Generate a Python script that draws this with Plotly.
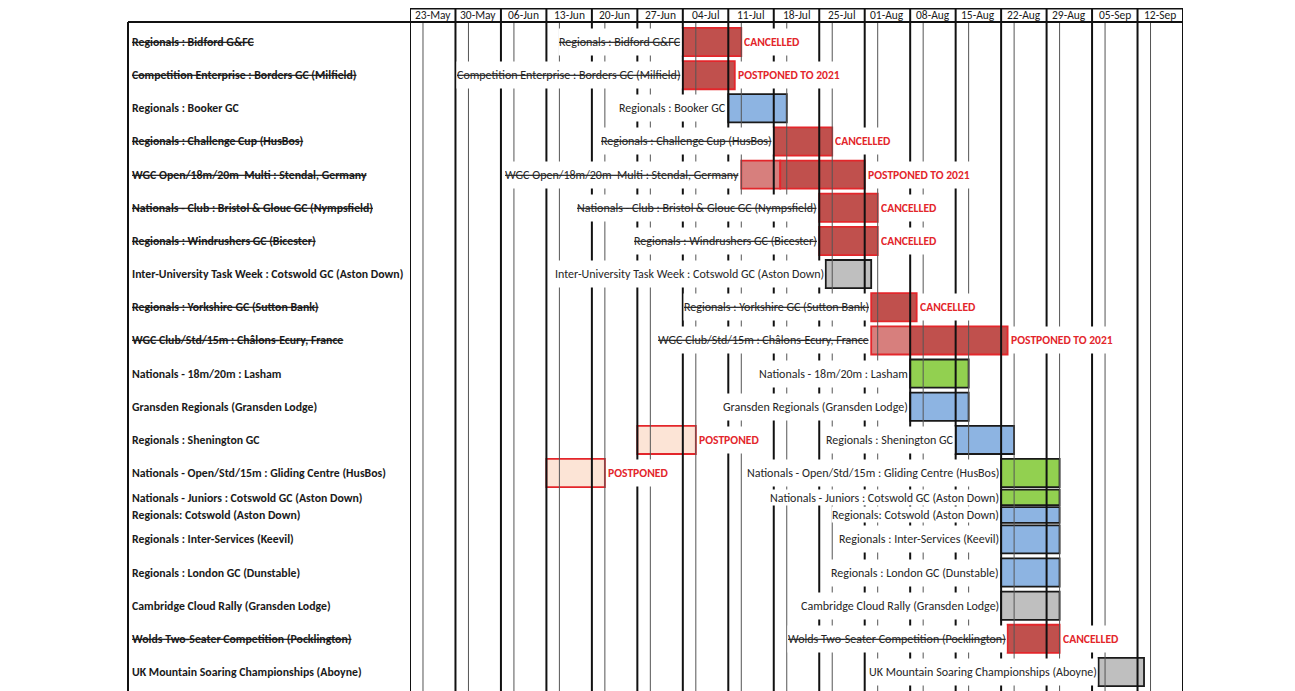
import plotly.graph_objects as go
from datetime import datetime, timedelta

# ---------------- data ----------------
season_year = 2020
week_labels = ["23-May", "30-May", "06-Jun", "13-Jun", "20-Jun", "27-Jun", "04-Jul",
               "11-Jul", "18-Jul", "25-Jul", "01-Aug", "08-Aug", "15-Aug", "22-Aug",
               "29-Aug", "05-Sep", "12-Sep"]

events = [
    "Regionals : Bidford G&FC",
    "Competition Enterprise : Borders GC (Milfield)",
    "Regionals : Booker GC",
    "Regionals : Challenge Cup (HusBos)",
    "WGC Open/18m/20m  Multi : Stendal, Germany",
    "Nationals - Club : Bristol & Glouc GC (Nympsfield)",
    "Regionals : Windrushers GC (Bicester)",
    "Inter-University Task Week : Cotswold GC (Aston Down)",
    "Regionals : Yorkshire GC (Sutton Bank)",
    "WGC Club/Std/15m : Châlons-Ecury, France",
    "Nationals - 18m/20m : Lasham",
    "Gransden Regionals (Gransden Lodge)",
    "Regionals : Shenington GC",
    "Nationals - Open/Std/15m : Gliding Centre (HusBos)",
    "Nationals - Juniors : Cotswold GC (Aston Down)",
    "Regionals: Cotswold (Aston Down)",
    "Regionals : Inter-Services (Keevil)",
    "Regionals : London GC (Dunstable)",
    "Cambridge Cloud Rally (Gransden Lodge)",
    "Wolds Two-Seater Competition (Pocklington)",
    "UK Mountain Soaring Championships (Aboyne)",
]

starts = ["2020-07-04", "2020-07-04", "2020-07-11", "2020-07-18", "2020-07-19",
          "2020-07-25", "2020-07-25", "2020-07-26", "2020-08-02", "2020-08-08",
          "2020-08-08", "2020-08-08", "2020-08-15", "2020-08-22", "2020-08-22",
          "2020-08-22", "2020-08-22", "2020-08-22", "2020-08-22", "2020-08-23",
          "2020-09-06"]
ends = ["2020-07-13", "2020-07-12", "2020-07-20", "2020-07-27", "2020-08-01",
        "2020-08-03", "2020-08-03", "2020-08-02", "2020-08-09", "2020-08-23",
        "2020-08-17", "2020-08-17", "2020-08-24", "2020-08-31", "2020-08-31",
        "2020-08-31", "2020-08-31", "2020-08-31", "2020-08-31", "2020-08-31",
        "2020-09-13"]

kind = ["red", "red", "blue", "red", "red", "red", "red", "grey", "red", "red",
        "green", "blue", "blue", "green", "green", "blue", "blue", "blue", "grey",
        "red", "grey"]

status = ["CANCELLED", "POSTPONED TO 2021", "", "CANCELLED", "POSTPONED TO 2021",
          "CANCELLED", "CANCELLED", "", "CANCELLED", "POSTPONED TO 2021",
          "", "", "", "", "", "", "", "", "", "CANCELLED", ""]

# practice periods before WGC contests (event, start, end)
practice_event = ["WGC Open/18m/20m  Multi : Stendal, Germany",
                  "WGC Club/Std/15m : Châlons-Ecury, France"]
practice_start = ["2020-07-13", "2020-08-02"]
practice_end = ["2020-07-19", "2020-08-08"]

# original dates of events that were postponed within the season
moved_event = ["Regionals : Shenington GC",
               "Nationals - Open/Std/15m : Gliding Centre (HusBos)"]
moved_start = ["2020-06-27", "2020-06-13"]
moved_end = ["2020-07-06", "2020-06-22"]
moved_status = ["POSTPONED", "POSTPONED"]

# two events sharing one row of the sheet
shared_row = {"Regionals: Cotswold (Aston Down)": "Nationals - Juniors : Cotswold GC (Aston Down)"}

# ---------------- styles ----------------
FONT = "Carlito, Lato, 'Open Sans', sans-serif"
fill = {"red": "#C0504D", "blue": "#8DB4E2", "green": "#92D050", "grey": "#BFBFBF"}
edge = {"red": "#E3262B", "blue": "#1A1A1A", "green": "#1A1A1A", "grey": "#1A1A1A"}
RED_TXT = "#E3262B"
PRACTICE_FILL = "#D77F7D"
MOVED_FILL = "#FCE4D6"

D = lambda s: datetime.strptime(s, "%Y-%m-%d")

lane_of = [shared_row.get(e, e) for e in events]
lanes = []
for l in lane_of:
    if l not in lanes:
        lanes.append(l)
lane_idx = {l: i for i, l in enumerate(lanes)}
half = {}
for sub, top in shared_row.items():
    half[top] = -1
    half[sub] = 1

BAR_W = 0.85
HALF_W = 0.47


def geom(ev):
    h = half.get(ev, 0)
    if h == 0:
        return -BAR_W / 2, BAR_W
    if h < 0:
        return -0.5, HALF_W
    return 0.5 - HALF_W, HALF_W


def ypos(ev):
    return lane_idx[lane_of[events.index(ev)]] + 0.25 * half.get(ev, 0)


fig = go.Figure()


def add_bars(evs, s_list, e_list, fills, lines):
    offs, wids = zip(*[geom(e) for e in evs])
    fig.add_trace(go.Bar(
        orientation="h",
        y=[lane_of[events.index(e)] for e in evs],
        base=s_list,
        x=[(D(e) - D(s)).total_seconds() * 1000 for s, e in zip(s_list, e_list)],
        offset=list(offs), width=list(wids),
        marker=dict(color=fills, line=dict(color=lines, width=1.8)),
        hoverinfo="skip", showlegend=False,
    ))


# original (moved) dates
add_bars(moved_event, moved_start, moved_end,
         [MOVED_FILL] * len(moved_event), [edge["red"]] * len(moved_event))
# practice periods
add_bars(practice_event, practice_start, practice_end,
         [PRACTICE_FILL] * len(practice_event), [edge["red"]] * len(practice_event))
# main bars
add_bars(events, starts, ends, [fill[k] for k in kind], [edge[k] for k in kind])

# ---------------- layout geometry (page body adds an 8px offset) ----------------
FIG_W, FIG_H = 1287, 683
L_PX, T_PX = 402, 14
R_PX = FIG_W - 1175
PLOT_W = FIG_W - L_PX - R_PX
PLOT_H = FIG_H - T_PX
LEFT_X = (122 - L_PX) / PLOT_W
BOX_X = (120 - L_PX) / PLOT_W
HEAD_TOP = 1 + 13.5 / PLOT_H

annotations = []


def fmt(txt, struck):
    t = txt.replace("&", "&amp;")
    return f"<s>{t}</s>" if struck else t


for i, ev in enumerate(events):
    struck = kind[i] == "red"
    y = ypos(ev)
    hgt = 15 if ev in half else 26
    # left column label
    annotations.append(dict(
        xref="paper", yref="y", x=LEFT_X, y=y, xanchor="left", yanchor="middle",
        text=f"<b>{fmt(ev, struck)}</b>", showarrow=False,
        font=dict(family=FONT, size=11.8, color="#1A1A1A")))
    # label left of the bar
    first_start = min([starts[i]] + [s for pe, s in zip(practice_event, practice_start) if pe == ev])
    annotations.append(dict(
        xref="x", yref="y", x=first_start, y=y, xanchor="right", yanchor="middle",
        xshift=-1, text=fmt(ev, struck), showarrow=False, bgcolor="white",
        height=hgt, borderpad=0, valign="middle",
        font=dict(family=FONT, size=12, color="#262626")))
    if status[i]:
        annotations.append(dict(
            xref="x", yref="y", x=ends[i], y=y, xanchor="left", yanchor="middle",
            xshift=2, text=f"<b>{status[i]}</b>", showarrow=False, bgcolor="white",
            height=hgt, borderpad=0, valign="middle",
            font=dict(family=FONT, size=11.6, color=RED_TXT)))

for ev, e, st in zip(moved_event, moved_end, moved_status):
    annotations.append(dict(
        xref="x", yref="y", x=e, y=ypos(ev), xanchor="left", yanchor="middle",
        xshift=2, text=f"<b>{st}</b>", showarrow=False, bgcolor="white",
        height=26, borderpad=0, valign="middle",
        font=dict(family=FONT, size=11.6, color=RED_TXT)))

# header week labels
week_starts = [datetime.strptime(f"{w}-{season_year}", "%d-%b-%Y") for w in week_labels]
week_edges = week_starts + [week_starts[-1] + timedelta(days=7)]
for w, ws in zip(week_labels, week_starts):
    annotations.append(dict(
        xref="x", yref="paper", x=ws + timedelta(days=3.5), y=1 + 7 / PLOT_H,
        xanchor="center", yanchor="middle", text=w, showarrow=False,
        font=dict(family=FONT, size=11.5, color="#1A1A1A")))

# ---------------- grid / boxes ----------------
shapes = []
for we in week_edges:
    shapes.append(dict(type="line", xref="x", yref="paper", x0=we, x1=we,
                       y0=0, y1=HEAD_TOP, layer="above",
                       line=dict(color="#111111", width=2)))
for ws in week_starts:
    m = ws + timedelta(days=2)
    shapes.append(dict(type="line", xref="x", yref="paper", x0=m, x1=m,
                       y0=0, y1=1, layer="above",
                       line=dict(color="#555555", width=1)))
# header top line
shapes.append(dict(type="line", xref="x", yref="paper", x0=week_edges[0], x1=week_edges[-1],
                   y0=HEAD_TOP, y1=HEAD_TOP, layer="above", line=dict(color="#111111", width=2)))
# line under header spanning label column
shapes.append(dict(type="line", xref="paper", yref="paper", x0=BOX_X, x1=1,
                   y0=1, y1=1, layer="above", line=dict(color="#111111", width=2)))
# left edge of label column
shapes.append(dict(type="line", xref="paper", yref="paper", x0=BOX_X, x1=BOX_X,
                   y0=0, y1=1, layer="above", line=dict(color="#111111", width=2)))

fig.update_layout(
    width=FIG_W, height=FIG_H,
    margin=dict(l=L_PX, r=R_PX, t=T_PX, b=0, autoexpand=False),
    paper_bgcolor="white", plot_bgcolor="white",
    barmode="overlay",
    showlegend=False,
    xaxis=dict(type="date", range=[week_edges[0], week_edges[-1]], showgrid=False,
               showticklabels=False, ticks="", zeroline=False, fixedrange=True),
    yaxis=dict(type="category", categoryorder="array", categoryarray=lanes,
               range=[len(lanes) - 1 + 19 / 33.16, -20 / 33.16], showgrid=False,
               showticklabels=False, ticks="", zeroline=False, fixedrange=True),
    annotations=annotations,
    shapes=shapes,
)

fig.write_html("out.html")
